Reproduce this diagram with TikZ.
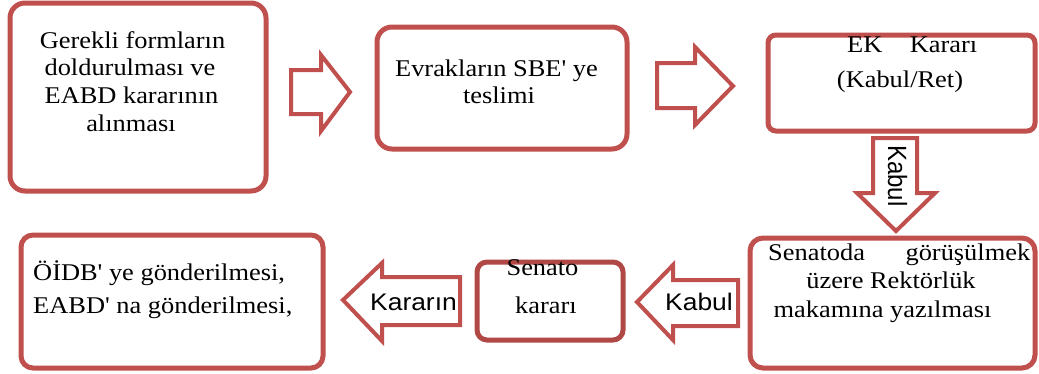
\documentclass[tikz,border=0pt]{standalone}
\usepackage{fontspec}
\usepackage{graphicx}
\setmainfont{Liberation Serif}[FakeStretch=1.1,Ligatures=TeXOff]
\newfontfamily\arrowfont{Liberation Sans}[FakeStretch=1.1]
\newfontfamily\arrowfontv{Liberation Sans}
\definecolor{boxred}{HTML}{C0504D}
\definecolor{boxreddark}{HTML}{B04845}
\tikzset{
  stepbox/.style={draw=boxred, line width=5pt, fill=white, rectangle,
    rounded corners=#1, inner sep=0pt},
  stepbox/.default=15pt,
  blockarrow/.style={draw=boxred, line width=4pt, fill=white, line join=miter},
  txt/.style={inner sep=0pt, anchor=base, font=\fontsize{24}{27}\selectfont},
  txtl/.style={txt, anchor=base west},
  arrowtxt/.style={inner sep=0pt, anchor=base, font=\arrowfont\fontsize{24}{27}\selectfont},
}
\begin{document}
\begin{tikzpicture}[x=1pt, y=-1pt]
  \useasboundingbox (0,0) rectangle (1039,373);

  % process boxes
  \node[stepbox, minimum width=256pt, minimum height=188pt] (b1) at (138,97) {};
  \node[stepbox, minimum width=250pt, minimum height=122pt] (b2) at (502,88) {};
  \node[stepbox=8pt, minimum width=267pt, minimum height=96pt] (b3) at (901.5,83) {};
  \node[stepbox=13pt, minimum width=285pt, minimum height=130pt] (b4) at (892.5,303) {};
  \node[stepbox=10pt, draw=boxreddark, minimum width=146pt, minimum height=78pt] (b5) at (550,301) {};
  \node[stepbox=12pt, minimum width=302pt, minimum height=133pt] (b6) at (172,301.5) {};

  % block arrows between the boxes
  \draw[blockarrow] (291,70) -- (321,70) -- (321,55) -- (350,92) -- (321,131)
    -- (321,114) -- (291,114) -- cycle;
  \draw[blockarrow] (657,63) -- (695,63) -- (695,47) -- (733,86) -- (695,125)
    -- (695,108) -- (657,108) -- cycle;
  \draw[blockarrow] (873,138) -- (873,193) -- (857,193) -- (896,231) -- (935,193)
    -- (917,193) -- (917,138) -- cycle;
  \draw[blockarrow] (738,280) -- (673,280) -- (673,265) -- (637,302) -- (673,340)
    -- (673,326) -- (738,326) -- cycle;
  \draw[blockarrow] (460,277) -- (382,277) -- (382,263) -- (343,300) -- (382,341)
    -- (382,325) -- (460,325) -- cycle;

  % box texts
  \node[txt] (t1a) at (132.5,48) {Gerekli formların};
  \node[txt] (t1b) at (130,75) {doldurulması ve};
  \node[txt] (t1c) at (131.5,103) {EABD kararının};
  \node[txt] (t1d) at (131,131) {alınması};

  \node[txt] (t2a) at (496.5,76) {Evrakların SBE' ye};
  \node[txt] (t2b) at (499,103) {teslimi};

  \node[txtl] (t3a) at (847,52) {\makebox[130pt][s]{EK\hfill Kararı}};
  \node[txt] (t3b) at (900,87) {(Kabul/Ret)};

  \node[txtl] (t4a) at (768,260) {\makebox[262pt][s]{Senatoda\hfill görüşülmek}};
  \node[txt] (t4b) at (891,288) {üzere Rektörlük};
  \node[txt] (t4c) at (882.5,317) {makamına yazılması};

  \node[txt] (t5a) at (542.5,275) {Senato};
  \node[txt] (t5b) at (546,313) {kararı};

  \node[txtl] (t6a) at (33,280) {ÖİDB' ye gönderilmesi,};
  \node[txtl] (t6b) at (33,313) {EABD' na gönderilmesi,};

  % arrow labels
  \node[arrowtxt] (l1) at (699,310) {Kabul};
  \node[arrowtxt] (l2) at (413.5,310) {Kararın};
  \node[inner sep=0pt, anchor=base west, rotate=-90,
    font=\arrowfontv\fontsize{24}{27}\selectfont] (l3) at (888,145)
    {\scalebox{1}[1.1]{Kabul}};
\end{tikzpicture}
\end{document}
